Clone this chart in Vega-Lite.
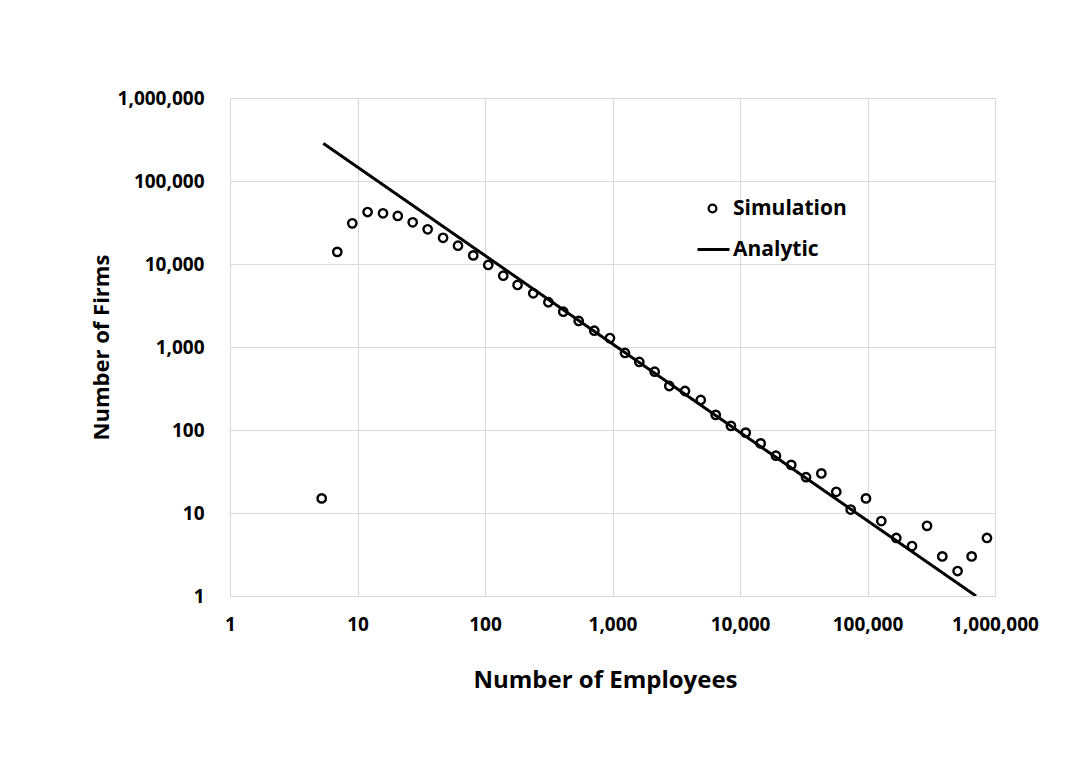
{
  "$schema": "https://vega.github.io/schema/vega-lite/v6.json",
  "autosize": {"type": "none"},
  "padding": {"left": 230, "top": 98, "right": 85, "bottom": 188},
  "width": 765,
  "height": 498,
  "background": "white",
  "config": {
    "view": {"stroke": null},
    "font": "Open Sans",
    "axis": {
      "domain": false,
      "ticks": false,
      "grid": true,
      "gridColor": "#d9d9d9",
      "gridWidth": 1,
      "labelFont": "Open Sans",
      "labelFontWeight": "bold",
      "labelFontSize": 19,
      "labelColor": "#000000",
      "labelFlush": false,
      "labelOverlap": false,
      "titleFont": "Open Sans",
      "titleFontWeight": "bold",
      "titleColor": "#000000"
    },
    "legend": {
      "title": null,
      "orient": "none",
      "labelFont": "Open Sans",
      "labelFontWeight": "bold",
      "labelFontSize": 21,
      "labelColor": "#000000"
    }
  },
  "datasets": {
    "simulation": [
      {"employees": 5.24, "firms": 15},
      {"employees": 6.94, "firms": 14000},
      {"employees": 9.1, "firms": 30900},
      {"employees": 12.0, "firms": 42300},
      {"employees": 15.85, "firms": 40800},
      {"employees": 20.7, "firms": 37900},
      {"employees": 27.1, "firms": 31800},
      {"employees": 35.5, "firms": 26200},
      {"employees": 46.9, "firms": 20700},
      {"employees": 61.4, "firms": 16600},
      {"employees": 80.9, "firms": 12700},
      {"employees": 106, "firms": 9730},
      {"employees": 139, "firms": 7230},
      {"employees": 180, "firms": 5590},
      {"employees": 239, "firms": 4440},
      {"employees": 314, "firms": 3460},
      {"employees": 411, "firms": 2660},
      {"employees": 543, "firms": 2060},
      {"employees": 720, "firms": 1570},
      {"employees": 955, "firms": 1280},
      {"employees": 1253, "firms": 847},
      {"employees": 1623, "firms": 660},
      {"employees": 2143, "firms": 504},
      {"employees": 2788, "firms": 339},
      {"employees": 3705, "firms": 295},
      {"employees": 4920, "firms": 230},
      {"employees": 6450, "firms": 152},
      {"employees": 8490, "firms": 112},
      {"employees": 11090, "firms": 93},
      {"employees": 14520, "firms": 69},
      {"employees": 19140, "firms": 49},
      {"employees": 25230, "firms": 38},
      {"employees": 32960, "firms": 27},
      {"employees": 43460, "firms": 30},
      {"employees": 56900, "firms": 18},
      {"employees": 73800, "firms": 11},
      {"employees": 97300, "firms": 15},
      {"employees": 128300, "firms": 8},
      {"employees": 168300, "firms": 5},
      {"employees": 223400, "firms": 4},
      {"employees": 293000, "firms": 7},
      {"employees": 386000, "firms": 3},
      {"employees": 509000, "firms": 2},
      {"employees": 656000, "firms": 3},
      {"employees": 865000, "firms": 5}
    ],
    "analytic": [
      {"employees": 5.39, "firms": 284000},
      {"employees": 710000, "firms": 1}
    ]
  },
  "encoding": {
    "x": {
      "field": "employees",
      "type": "quantitative",
      "scale": {"type": "log", "domain": [1, 1000000], "nice": false},
      "axis": {
        "title": "Number of Employees",
        "titleFontSize": 24,
        "titleX": 375,
        "values": [1, 10, 100, 1000, 10000, 100000, 1000000],
        "format": ",",
        "labelPadding": 19,
        "titlePadding": 34
      }
    },
    "y": {
      "field": "firms",
      "type": "quantitative",
      "scale": {"type": "log", "domain": [1, 1000000], "nice": false},
      "axis": {
        "title": "Number of Firms",
        "titleFontSize": 22,
        "values": [1, 10, 100, 1000, 10000, 100000, 1000000],
        "format": ",",
        "labelPadding": 26,
        "titlePadding": 4
      }
    }
  },
  "layer": [
    {
      "data": {"name": "analytic"},
      "transform": [{"calculate": "'Analytic'", "as": "series"}],
      "mark": {"type": "line", "color": "#000000", "strokeWidth": 3, "clip": true},
      "encoding": {
        "strokeDash": {
          "field": "series",
          "type": "nominal",
          "scale": {"domain": ["Analytic"], "range": [[1, 0]]},
          "legend": {
            "legendX": 466,
            "legendY": 134,
            "symbolType": "stroke",
            "symbolSize": 1024,
            "symbolStrokeColor": "#000000",
            "symbolStrokeWidth": 3,
            "labelOffset": 2
          }
        }
      }
    },
    {
      "data": {"name": "simulation"},
      "transform": [{"calculate": "'Simulation'", "as": "series"}],
      "mark": {"type": "point", "filled": false, "color": "#000000", "strokeWidth": 2.4, "size": 70, "opacity": 1},
      "encoding": {
        "shape": {
          "field": "series",
          "type": "nominal",
          "scale": {"domain": ["Simulation"], "range": ["circle"]},
          "legend": {
            "legendX": 472,
            "legendY": 100,
            "symbolSize": 60,
            "symbolStrokeColor": "#000000",
            "symbolStrokeWidth": 2.2,
            "symbolFillColor": "transparent",
            "labelOffset": 10
          }
        }
      }
    }
  ]
}
